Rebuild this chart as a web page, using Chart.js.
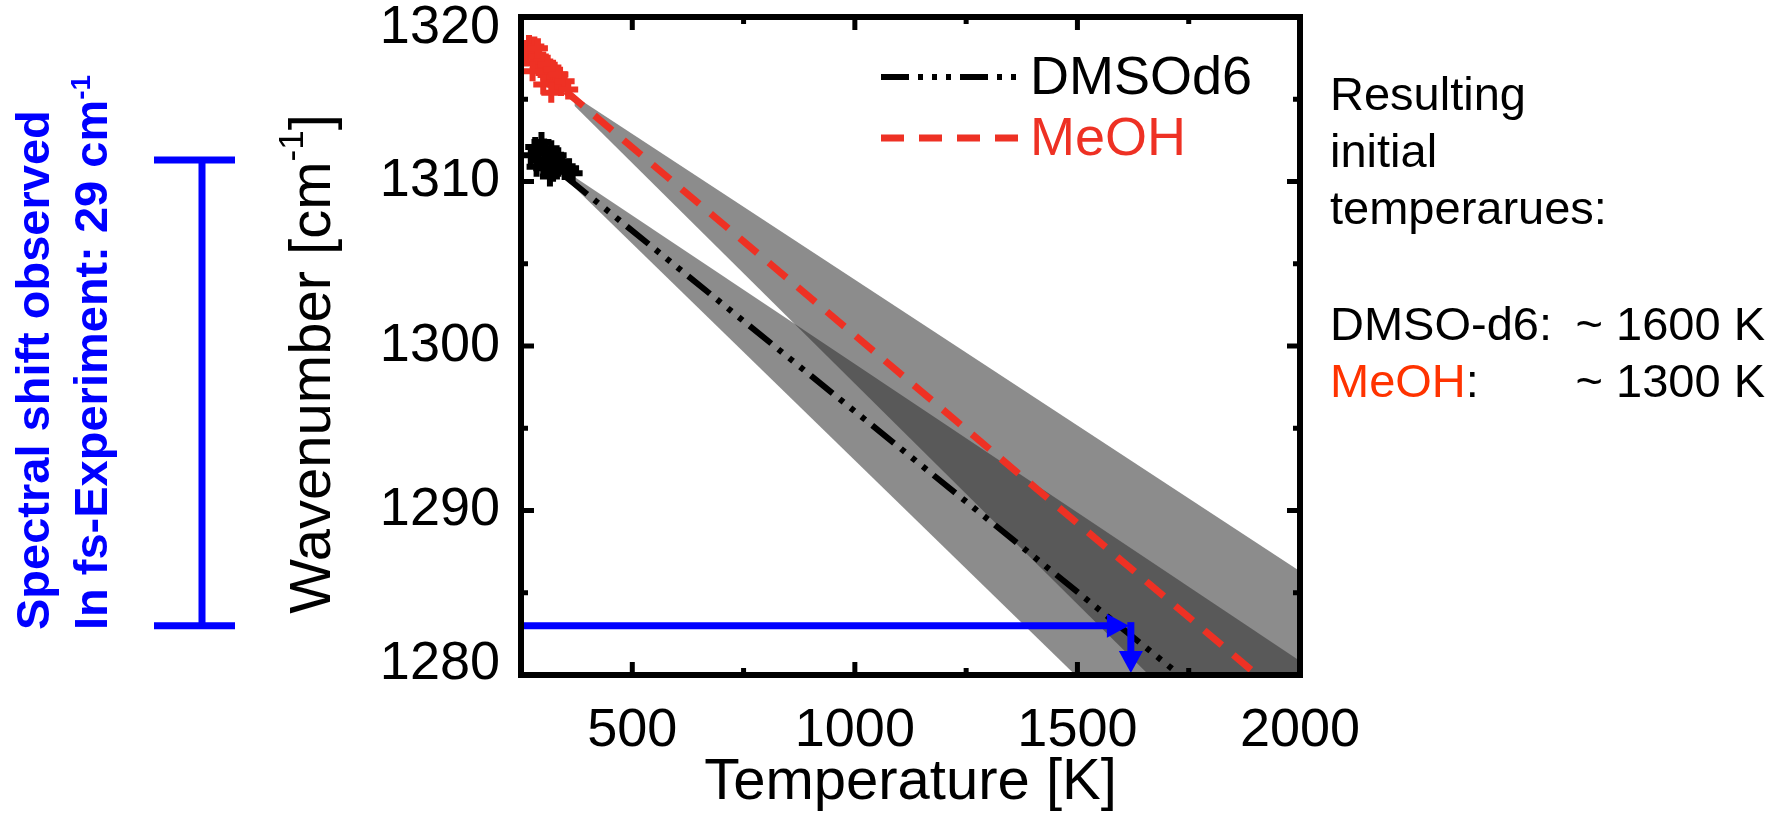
<!DOCTYPE html>
<html>
<head>
<meta charset="utf-8">
<script src="https://cdn.jsdelivr.net/npm/chart.js@4.4.1/dist/chart.umd.min.js"></script>
<style>
  html, body { margin: 0; padding: 0; background: #fff; }
  #chart { display: block; }
</style>
</head>
<body>
<canvas id="chart" width="1772" height="822"></canvas>
<script>
var FONT = "'Liberation Sans', Arial, Helvetica, sans-serif";
var RED = '#ee3124';
var BLUE = '#0000ff';
var BAND = 'rgba(52, 52, 52, 0.565)';

// axes
var tempRange = [250, 2000];
var waveRange = [1280, 1320];
var tempTicks = [500, 1000, 1500, 2000];
var tempMinorTicks = [750, 1250, 1750];
var waveTicks = [1280, 1290, 1300, 1310, 1320];
var waveMinorTicks = [1285, 1295, 1305, 1315];

// measured band positions (+ symbols)
var dmsoT = [272, 282, 290, 296, 300, 306, 312, 318, 322, 328, 334, 340, 348, 358, 302, 315, 285, 330, 366];
var dmsoW = [1311.6, 1312.1, 1311.3, 1312.4, 1310.8, 1311.7, 1311.2, 1311.9, 1310.6, 1311.4, 1310.9, 1311.2, 1310.7, 1310.8, 1312.0, 1310.3, 1310.9, 1311.6, 1310.5];
var meohT = [262, 268, 275, 280, 284, 290, 294, 300, 305, 310, 316, 322, 328, 334, 340, 348, 300, 318, 276, 356, 258, 288];
var meohW = [1317.6, 1318.3, 1317.8, 1318.2, 1317.2, 1317.6, 1316.9, 1317.3, 1316.6, 1317.1, 1316.3, 1316.8, 1316.0, 1316.5, 1315.8, 1316.1, 1315.9, 1315.4, 1316.7, 1315.6, 1318.0, 1318.1];

// linear extrapolations
var dmsoFitT = [350, 1780];
var dmsoFitW = [1310.3, 1278.9];
var meohFitT = [350, 1930];
var meohFitW = [1315.5, 1279.4];

// uncertainty cones of the extrapolations
var dmsoConeT = [330, 2000];
var dmsoConeHigh = [1311.0, 1280.85];
var dmsoConeLow = [1310.7, 1266.7];
var meohConeT = [370, 2000];
var meohConeHigh = [1315.2, 1286.3];
var meohConeLow = [1314.6, 1270.9];

// shift seen in the fs experiment
var shiftTop = 1311.3;
var shiftBottom = 1283.0;
var shiftTemp = 1620;

var noteLines = ['Resulting', 'initial', 'temperarues:'];
var resultNames = ['DMSO-d6', 'MeOH'];
var resultColors = ['#000000', '#ff3300'];
var resultValues = ['~ 1600 K', '~ 1300 K'];

function pts(xs, ys) {
    return xs.map(function (x, i) {
        return { x: x, y: ys[i] };
    });
}

function seg(ctx, x1, y1, x2, y2) {
    ctx.beginPath();
    ctx.moveTo(x1, y1);
    ctx.lineTo(x2, y2);
    ctx.stroke();
}

function head(ctx, tx, ty, angle, len, half) {
    ctx.save();
    ctx.translate(tx, ty);
    ctx.rotate(angle);
    ctx.beginPath();
    ctx.moveTo(0, 0);
    ctx.lineTo(-len, -half);
    ctx.lineTo(-len, half);
    ctx.closePath();
    ctx.fill();
    ctx.restore();
}

// text with a raised "-1" after it, drawn along the current x direction
function withSuperscript(ctx, before, sup, after, size, bold, x, y, centered) {
    var weight = bold ? 'bold ' : '';
    var small = weight + Math.round(size * 0.6) + 'px ' + FONT;
    var big = weight + size + 'px ' + FONT;
    ctx.font = big;
    var w1 = ctx.measureText(before).width;
    var w3 = ctx.measureText(after).width;
    ctx.font = small;
    var w2 = ctx.measureText(sup).width;
    var start = centered ? x - (w1 + w2 + w3) / 2 : x;
    ctx.textAlign = 'left';
    ctx.font = big;
    ctx.fillText(before, start, y);
    ctx.font = small;
    ctx.fillText(sup, start + w1, y - size * 0.36);
    ctx.font = big;
    ctx.fillText(after, start + w1 + w2, y);
}

var decorations = {
    id: 'decorations',
    afterDatasetsDraw: function (chart) {
        var ctx = chart.ctx;
        var area = chart.chartArea;
        var px = chart.scales.x.getPixelForValue(shiftTemp);
        var py = chart.scales.y.getPixelForValue(shiftBottom);
        ctx.save();
        ctx.strokeStyle = BLUE;
        ctx.fillStyle = BLUE;
        ctx.lineWidth = 7;
        seg(ctx, area.left, py, px - 12, py);
        head(ctx, px - 2, py, 0, 22, 12);
        seg(ctx, px, py - 3.5, px, area.bottom - 18);
        head(ctx, px, area.bottom - 2, Math.PI / 2, 22, 12);
        ctx.restore();
    },
    afterDraw: function (chart) {
        var ctx = chart.ctx;
        var area = chart.chartArea;
        var xs = chart.scales.x;
        var ys = chart.scales.y;
        ctx.save();

        // frame and inward ticks on all four sides
        ctx.strokeStyle = '#000';
        ctx.lineWidth = 5;
        tempTicks.concat(tempMinorTicks).forEach(function (v) {
            if (v <= tempRange[0] || v >= tempRange[1]) return;
            var len = tempTicks.indexOf(v) >= 0 ? 13 : 7;
            var p = xs.getPixelForValue(v);
            seg(ctx, p, area.bottom, p, area.bottom - len);
            seg(ctx, p, area.top, p, area.top + len);
        });
        waveTicks.concat(waveMinorTicks).forEach(function (v) {
            if (v <= waveRange[0] || v >= waveRange[1]) return;
            var len = waveTicks.indexOf(v) >= 0 ? 13 : 7;
            var p = ys.getPixelForValue(v);
            seg(ctx, area.left, p, area.left + len, p);
            seg(ctx, area.right, p, area.right - len, p);
        });
        ctx.lineWidth = 6;
        ctx.strokeRect(area.left, area.top, area.right - area.left, area.bottom - area.top);

        // legend inside the frame
        ctx.textBaseline = 'middle';
        [2, 3].forEach(function (idx, row) {
            var ds = chart.data.datasets[idx];
            var y = 77 + row * 61;
            ctx.strokeStyle = ds.borderColor;
            ctx.lineWidth = ds.borderWidth;
            ctx.setLineDash(ds.borderDash);
            seg(ctx, 881, y, 1023, y);
            ctx.setLineDash([]);
            ctx.fillStyle = ds.borderColor;
            ctx.font = '54px ' + FONT;
            ctx.textAlign = 'left';
            ctx.fillText(ds.label, 1030, y + 2);
        });

        // y axis title
        ctx.save();
        ctx.translate(314, 364);
        ctx.rotate(-Math.PI / 2);
        ctx.fillStyle = '#000';
        ctx.textBaseline = 'middle';
        withSuperscript(ctx, 'Wavenumber [cm', '-1', ']', 58, false, 0, 0, true);
        ctx.restore();

        // notes on the right
        ctx.textBaseline = 'alphabetic';
        ctx.font = '47px ' + FONT;
        ctx.fillStyle = '#000';
        ctx.textAlign = 'left';
        noteLines.forEach(function (t, i) {
            ctx.fillText(t, 1330, 110 + i * 57);
        });
        resultNames.forEach(function (t, i) {
            var y = 340 + i * 57;
            ctx.textAlign = 'left';
            ctx.fillStyle = resultColors[i];
            ctx.fillText(t, 1330, y);
            var w = ctx.measureText(t).width;
            ctx.fillStyle = '#000';
            ctx.fillText(':', 1330 + w, y);
            ctx.textAlign = 'right';
            ctx.fillText(resultValues[i], 1765, y);
        });

        // observed shift bar on the left
        var top = ys.getPixelForValue(shiftTop);
        var bottom = ys.getPixelForValue(shiftBottom);
        ctx.strokeStyle = BLUE;
        ctx.lineWidth = 7;
        seg(ctx, 202, top, 202, bottom);
        seg(ctx, 154, top, 235, top);
        seg(ctx, 154, bottom, 235, bottom);

        ctx.fillStyle = BLUE;
        ctx.textBaseline = 'alphabetic';
        ctx.save();
        ctx.translate(49, 630);
        ctx.rotate(-Math.PI / 2);
        ctx.font = 'bold 47px ' + FONT;
        ctx.textAlign = 'left';
        ctx.fillText('Spectral shift observed', 0, 0);
        ctx.restore();
        ctx.save();
        ctx.translate(107, 630);
        ctx.rotate(-Math.PI / 2);
        withSuperscript(ctx, 'In fs-Experiment: 29 cm', '-1', '', 47, true, 0, 0, false);
        ctx.restore();

        ctx.restore();
    }
};

function cone(t, w, fill) {
    return {
        data: pts(t, w), borderColor: 'rgba(0,0,0,0)', borderWidth: 1,
        pointRadius: 0, fill: fill, backgroundColor: BAND, order: 4, clip: 0
    };
}

var datasets = [
    {
        label: 'DMSO points', data: pts(dmsoT, dmsoW), showLine: false,
        pointStyle: 'cross', pointRadius: 10, pointBorderWidth: 6,
        pointBorderColor: '#000', borderColor: '#000', order: 1, clip: 0
    },
    {
        label: 'MeOH points', data: pts(meohT, meohW), showLine: false,
        pointStyle: 'cross', pointRadius: 10, pointBorderWidth: 6,
        pointBorderColor: RED, borderColor: RED, order: 1, clip: 0
    },
    {
        label: 'DMSOd6', data: pts(dmsoFitT, dmsoFitW), borderColor: '#000',
        borderWidth: 6, borderDash: [28, 9, 5, 9, 5, 9, 5, 9], pointRadius: 0,
        fill: false, order: 2, clip: 0
    },
    {
        label: 'MeOH', data: pts(meohFitT, meohFitW), borderColor: RED,
        borderWidth: 7, borderDash: [23, 15], pointRadius: 0,
        fill: false, order: 2, clip: 0
    },
    cone(dmsoConeT, dmsoConeHigh, false),
    cone(dmsoConeT, dmsoConeLow, '-1'),
    cone(meohConeT, meohConeHigh, false),
    cone(meohConeT, meohConeLow, '-1')
];

var chart = new Chart(document.getElementById('chart').getContext('2d'), {
    type: 'line',
    data: { datasets: datasets },
    plugins: [decorations],
    options: {
        responsive: false,
        animation: false,
        events: [],
        layout: { padding: { left: 0, top: 17, right: 472, bottom: 0 } },
        elements: { line: { tension: 0 } },
        plugins: {
            legend: { display: false },
            tooltip: { enabled: false }
        },
        scales: {
            x: {
                type: 'linear',
                min: tempRange[0],
                max: tempRange[1],
                afterBuildTicks: function (scale) {
                    scale.ticks = tempTicks.map(function (v) { return { value: v }; });
                },
                afterFit: function (scale) {
                    scale.height = 147;
                    scale.paddingLeft = 0;
                    scale.paddingRight = 0;
                },
                grid: { display: false, drawTicks: false },
                border: { display: false },
                ticks: {
                    color: '#000', padding: 24, maxRotation: 0,
                    font: { family: FONT, size: 54 },
                    callback: function (v) { return String(v); }
                },
                title: {
                    display: true, text: 'Temperature [K]', color: '#000',
                    font: { family: FONT, size: 58 }, padding: { top: 0, bottom: 4 }
                }
            },
            y: {
                type: 'linear',
                min: waveRange[0],
                max: waveRange[1],
                afterBuildTicks: function (scale) {
                    scale.ticks = waveTicks.map(function (v) { return { value: v }; });
                },
                afterFit: function (scale) {
                    scale.width = 521;
                    scale.paddingTop = 0;
                    scale.paddingBottom = 0;
                },
                grid: { display: false, drawTicks: false },
                border: { display: false },
                ticks: {
                    color: '#000', padding: 21,
                    font: { family: FONT, size: 54, lineHeight: 0.42 },
                    // end labels sit a little inside the frame, as in the original
                    callback: function (v) {
                        if (v === waveRange[1]) return ['', String(v)];
                        if (v === waveRange[0]) return [String(v), ''];
                        return String(v);
                    }
                }
            }
        }
    }
});
</script>
</body>
</html>
